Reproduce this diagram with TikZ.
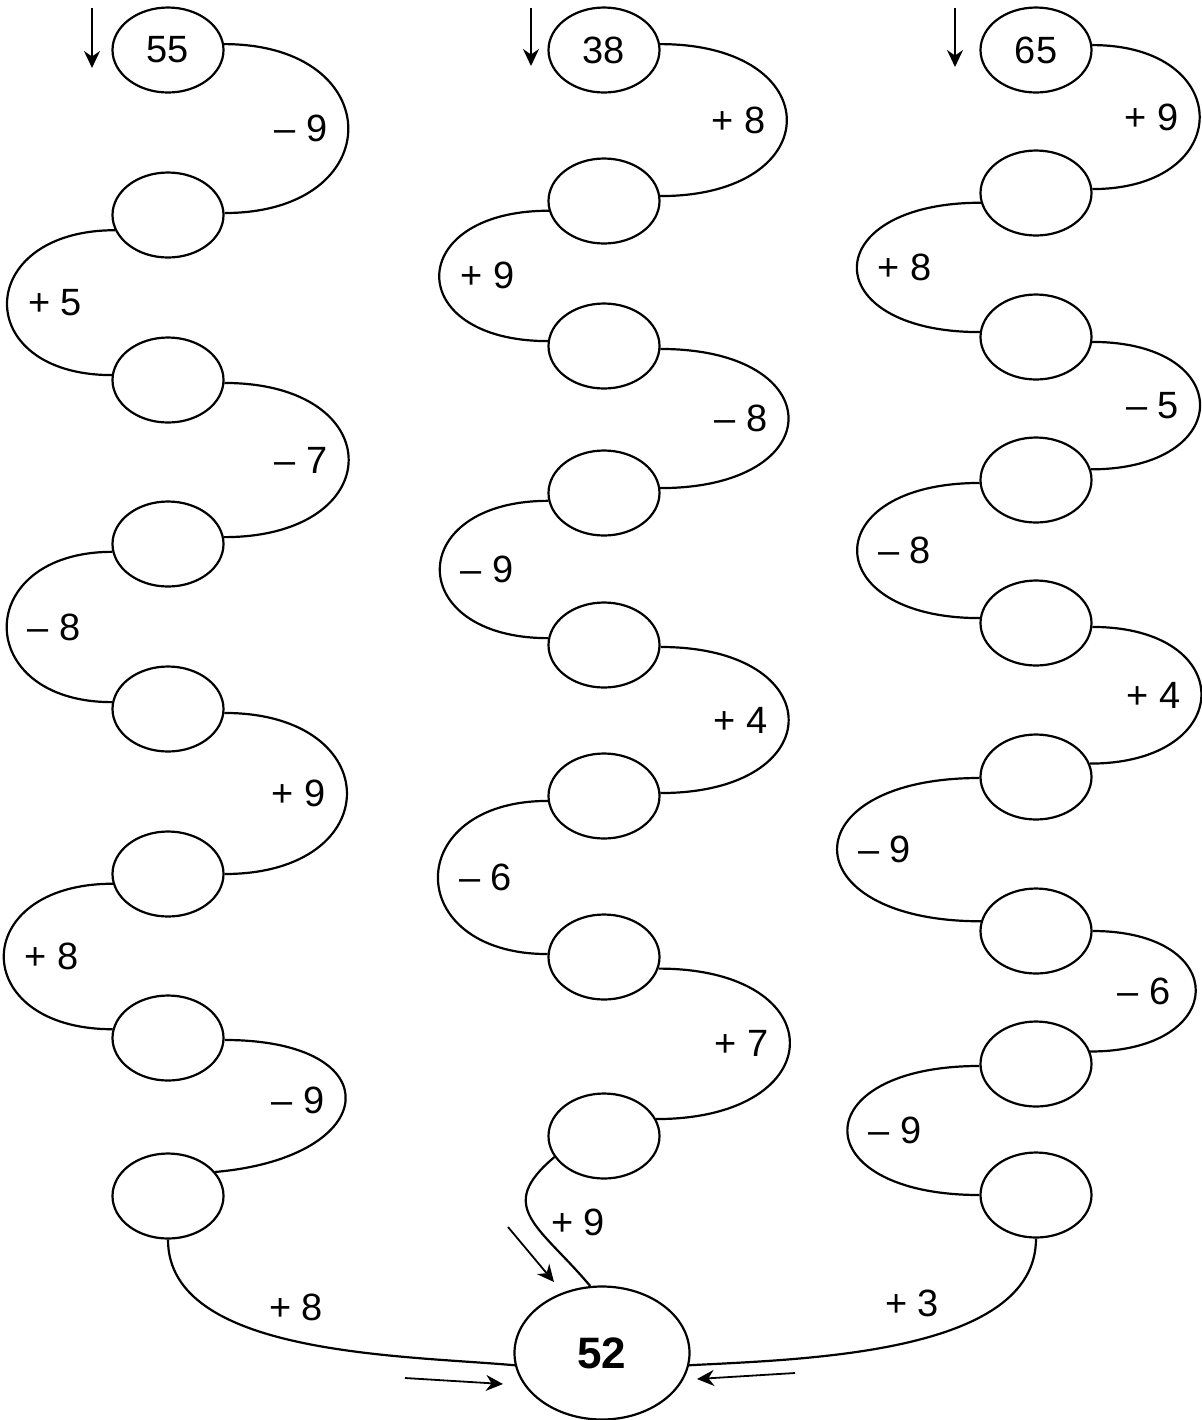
\documentclass[tikz,border=0pt]{standalone}
\usepackage{fontspec}
\setmainfont{Liberation Sans}
\usetikzlibrary{positioning,arrows.meta,shapes.geometric}

\begin{document}
\begin{tikzpicture}[
    x=0.5pt,y=-0.5pt,
    slot/.style={draw,ellipse,line width=1.1pt,minimum width=55.5pt,minimum height=42.5pt,inner sep=0pt,font=\fontsize{19}{23}\selectfont},
    result/.style={slot,minimum width=87.5pt,minimum height=66.5pt,font=\fontsize{22}{26}\selectfont\bfseries},
    link/.style={line width=1.1pt},
    oper/.style={inner sep=0pt,font=\fontsize{19}{23}\selectfont},
    pointer/.style={-{Stealth[length=8.5pt,width=8pt]},line width=0.9pt},
]
\useasboundingbox (0,0) rectangle (1202,1420);
% Left chain
\node[slot] (l1) at (168,50)   {55};
\node[slot] (l2) at (168,215)  {};
\node[slot] (l3) at (168,380)  {};
\node[slot] (l4) at (168,544)  {};
\node[slot] (l5) at (168,709)  {};
\node[slot] (l6) at (168,874)  {};
\node[slot] (l7) at (168,1038) {};
\node[slot] (l8) at (168,1196) {};
% Middle chain
\node[slot] (m1) at (604,50)   {38};
\node[slot] (m2) at (604,201)  {};
\node[slot] (m3) at (604,346)  {};
\node[slot] (m4) at (604,493)  {};
\node[slot] (m5) at (604,645)  {};
\node[slot] (m6) at (604,796)  {};
\node[slot] (m7) at (604,957)  {};
\node[slot] (m8) at (604,1136) {};
% Right chain
\node[slot] (r1) at (1036,50)   {65};
\node[slot] (r2) at (1036,193)  {};
\node[slot] (r3) at (1036,337)  {};
\node[slot] (r4) at (1036,480)  {};
\node[slot] (r5) at (1036,623)  {};
\node[slot] (r6) at (1036,777)  {};
\node[slot] (r7) at (1036,931)  {};
\node[slot] (r8) at (1036,1064) {};
\node[slot] (r9) at (1036,1195) {};
% Common result
\node[result] (total) at (602,1353) {52};

% Left chain links
\draw[link] (l1.6) to[out=0,in=0,looseness=2.5] node[oper,left=10pt] (ol1) {– 9} (l2.2);
\draw[link] (l2.196) to[out=180,in=180,looseness=2.5] node[oper,right=10pt] (ol2) {+ 5} (l3.175);
\draw[link] (l3.-3) to[out=0,in=0,looseness=2.75] node[oper,left=10pt] (ol3) {– 7} (l4.7);
\draw[link] (l4.188) to[out=180,in=180,looseness=2.4] node[oper,right=10pt] (ol4) {– 8} (l5.173);
\draw[link] (l5.-4) to[out=0,in=0,looseness=2.6] node[oper,left=10pt] (ol5) {+ 9} (l6.0);
\draw[link] (l6.190) to[out=180,in=180,looseness=2.55] node[oper,right=10pt] (ol6) {+ 8} (l7.171);
\draw[link] (l7.-2) to[out=0,in=5,looseness=3.25] node[oper,left=10pt] (ol7) {– 9} (l8.27);
\draw[link] (l8.south) to[out=-90,in=175,looseness=0.8] (total.188);
\node[oper] (ol8) at (296,1307) {+ 8};

% Middle chain links
\draw[link] (m1.6) to[out=0,in=0,looseness=2.85] node[oper,left=10pt] (om1) {+ 8} (m2.5);
\draw[link] (m2.190) to[out=180,in=180,looseness=2.85] node[oper,right=10pt] (om2) {+ 9} (m3.175);
\draw[link] (m3.-3) to[out=0,in=0,looseness=3.15] node[oper,left=10pt] (om3) {– 8} (m4.5);
\draw[link] (m4.188) to[out=180,in=180,looseness=2.7] node[oper,right=10pt] (om4) {– 9} (m5.173);
\draw[link] (m5.-2) to[out=0,in=0,looseness=3.0] node[oper,left=10pt] (om5) {+ 4} (m6.3);
\draw[link] (m6.185) to[out=180,in=180,looseness=2.45] node[oper,right=10pt] (om6) {– 6} (m7.177);
\draw[link] (m7.-12) to[out=0,in=0,looseness=3.0] node[oper,left=10pt] (om7) {+ 7} (m8.18);
\draw[link] (m8.203) to[out=220,in=130,looseness=1.5] (total.100);
\node[oper] (om8) at (578,1222) {+ 9};

% Right chain links
\draw[link] (r1.5) to[out=0,in=0,looseness=2.55] node[oper,left=10pt] (or1) {+ 9} (r2.4);
\draw[link] (r2.190) to[out=180,in=180,looseness=3.25] node[oper,right=10pt] (or2) {+ 8} (r3.175);
\draw[link] (r3.-5) to[out=0,in=0,looseness=2.9] node[oper,left=10pt] (or3) {– 5} (r4.11);
\draw[link] (r4.183) to[out=180,in=180,looseness=3.1] node[oper,right=10pt] (or4) {– 8} (r5.175);
\draw[link] (r5.-4) to[out=0,in=0,looseness=2.75] node[oper,left=10pt] (or5) {+ 4} (r6.14);
\draw[link] (r6.181) to[out=180,in=180,looseness=3.4] node[oper,right=10pt] (or6) {– 9} (r7.170);
\draw[link] (r7.0) to[out=0,in=0,looseness=2.95] node[oper,left=12pt] (or7) {– 6} (r8.13);
\draw[link] (r8.182) to[out=180,in=180,looseness=3.5] node[oper,right=10pt] (or8) {– 9} (r9.west);
\draw[link] (r9.south) to[out=-90,in=3,looseness=0.8] (total.-8);
\node[oper] (or9) at (912,1303) {+ 3};

% Start and finish pointers
\coordinate (ps1) at (92,8);    \coordinate (pe1) at (92,68);
\coordinate (ps2) at (531,8);   \coordinate (pe2) at (531,66);
\coordinate (ps3) at (955,8);   \coordinate (pe3) at (955,67);
\coordinate (ps4) at (508,1227); \coordinate (pe4) at (554,1282);
\coordinate (ps5) at (405,1378); \coordinate (pe5) at (503,1384);
\coordinate (ps6) at (795,1373); \coordinate (pe6) at (697,1379);
\draw[pointer] (ps1) -- (pe1);
\draw[pointer] (ps2) -- (pe2);
\draw[pointer] (ps3) -- (pe3);
\draw[pointer] (ps4) -- (pe4);
\draw[pointer] (ps5) -- (pe5);
\draw[pointer] (ps6) -- (pe6);
\end{tikzpicture}
\end{document}
